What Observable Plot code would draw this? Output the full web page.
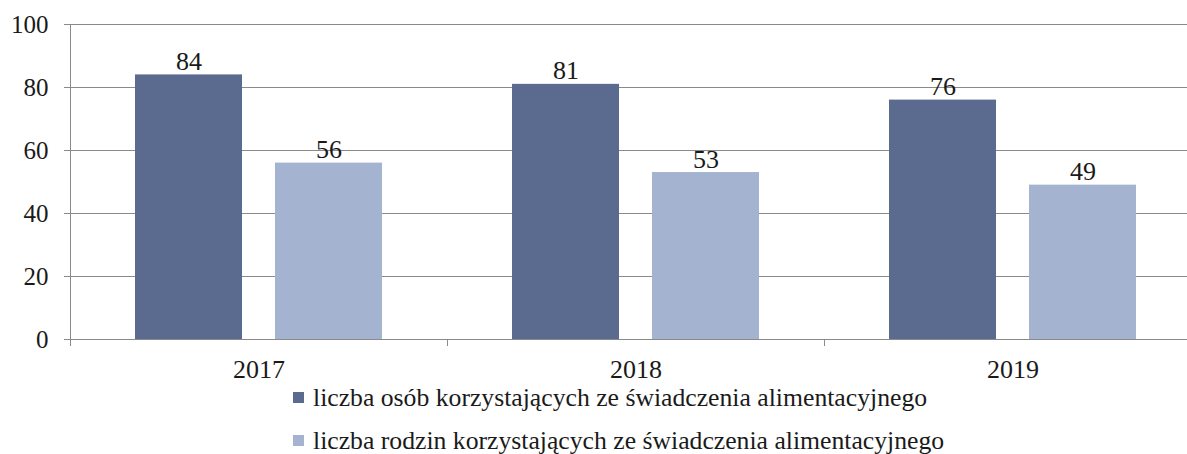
<!DOCTYPE html>
<html>
<head>
<meta charset="utf-8">
<script src="https://cdn.jsdelivr.net/npm/d3@7"></script>
<script src="https://cdn.jsdelivr.net/npm/@observablehq/plot@0.6"></script>
<style>
  html, body { margin: 0; padding: 0; background: #fff; overflow: hidden; }
  #wrap { width: 1187px; overflow: hidden; position: relative; }
  #chart { width: 1201px; }
  #chart svg { max-width: none !important; }
  #legend { font-family: "Liberation Serif", "Times New Roman", serif; font-size: 25.7px; line-height: 1; color: #1a1a1a; margin-left: 293px; margin-top: -9px; }
  .row { display: flex; align-items: center; height: 43px; }
  .sw { width: 11px; height: 11px; margin-right: 9px; flex: none; }
</style>
</head>
<body>
<div id="wrap"><div id="chart"></div><div id="legend"></div></div>
<script>
const years = ["2017", "2018", "2019"];
const seriesNames = [
  "liczba osób korzystających ze świadczenia alimentacyjnego",
  "liczba rodzin korzystających ze świadczenia alimentacyjnego"
];
const osobValues = [84, 81, 76];
const rodzinValues = [56, 53, 49];
const yTicks = [0, 20, 40, 60, 80, 100];
const colors = ["#5b6b90", "#a3b3d0"];

const data = [];
years.forEach((yr, i) => {
  data.push({year: yr, series: seriesNames[0], value: osobValues[i]});
  data.push({year: yr, series: seriesNames[1], value: rodzinValues[i]});
});

const font = "Liberation Serif, Times New Roman, serif";
const plot = Plot.plot({
  width: 1201,
  height: 385,
  marginLeft: 70,
  marginRight: 0,
  marginTop: 24,
  marginBottom: 46,
  style: {fontFamily: font, fontSize: "25px", color: "#1a1a1a", background: "transparent", overflow: "visible"},
  fx: {domain: years, paddingInner: 0, paddingOuter: 0, label: null},
  x: {domain: seriesNames, paddingInner: 0.234, paddingOuter: 0.454, axis: null},
  y: {domain: [0, 100], label: null},
  color: {domain: seriesNames, range: colors},
  marks: [
    Plot.gridY(yTicks, {stroke: "#8a8a8a", strokeOpacity: 1, strokeWidth: 1}),
    Plot.barY(data, {fx: "year", x: "series", y: "value", fill: "series"}),
    Plot.text(data, {fx: "year", x: "series", y: "value", text: d => String(d.value), lineAnchor: "bottom", dy: -5, fontSize: 26, fontFamily: font, fill: "#1a1a1a"}),
    Plot.frame({anchor: "left", facetAnchor: "left", stroke: "#8a8a8a", insetBottom: -6}),
    Plot.frame({anchor: "left", stroke: "#8a8a8a", insetTop: 315, insetBottom: -6}),
    Plot.axisY(yTicks, {tickSize: 6, tickPadding: 16, stroke: "#8a8a8a", fill: "#1a1a1a", fontSize: 25, fontFamily: font, label: null}),
    Plot.axisFx({anchor: "bottom", tickSize: 0, tickPadding: 20, fontSize: 26, fontFamily: font, fill: "#1a1a1a", label: null})
  ]
});
document.getElementById("chart").appendChild(plot);

const legend = document.getElementById("legend");
seriesNames.forEach((name, i) => {
  const row = document.createElement("div");
  row.className = "row";
  const sw = document.createElement("span");
  sw.className = "sw";
  sw.style.background = colors[i];
  const t = document.createElement("span");
  t.textContent = name;
  row.appendChild(sw);
  row.appendChild(t);
  legend.appendChild(row);
});
</script>
</body>
</html>
